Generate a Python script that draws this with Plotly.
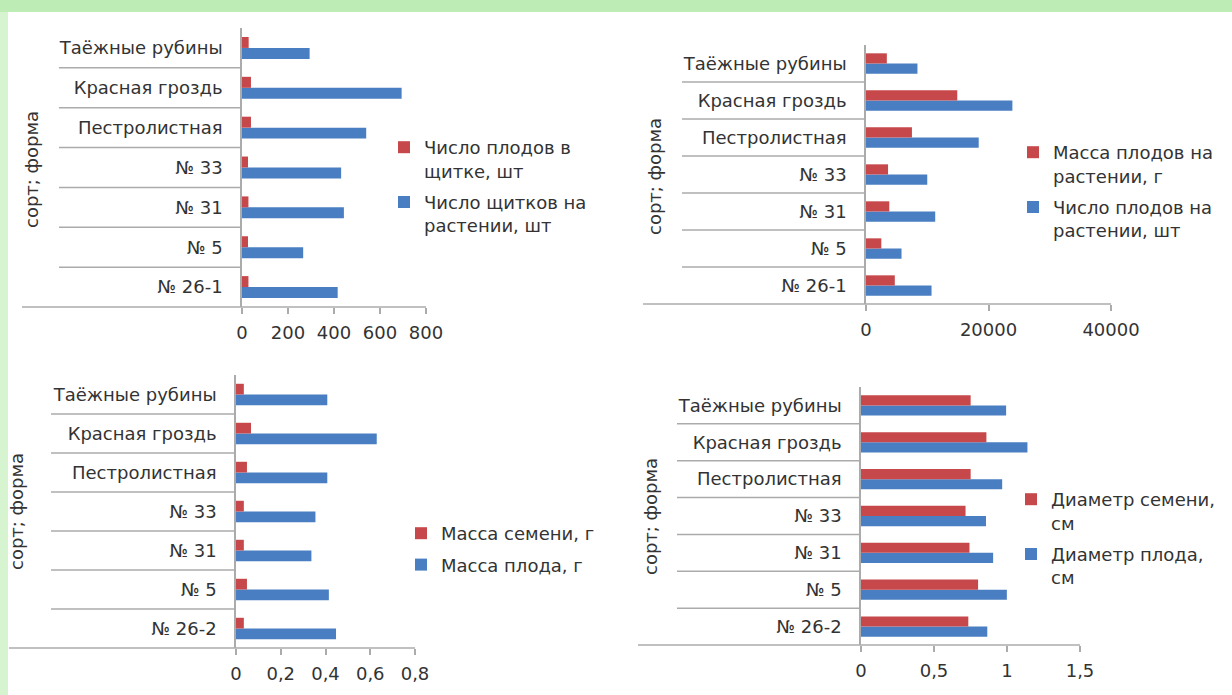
import plotly.graph_objects as go

W, H = 1232, 695

# ---------------- data (bottom-to-top category order) ----------------
categories_a = ["№ 26-1", "№ 5", "№ 31", "№ 33", "Пестролистная", "Красная гроздь", "Таёжные рубины"]
categories_b = ["№ 26-2", "№ 5", "№ 31", "№ 33", "Пестролистная", "Красная гроздь", "Таёжные рубины"]

c1_red_name = "Число плодов в<br>щитке, шт"
c1_blue_name = "Число щитков на<br>растении, шт"
c1_red = [28, 26, 28, 26, 39, 39, 29]
c1_blue = [416, 266, 443, 431, 540, 694, 294]
c1_ticks = [0, 200, 400, 600, 800]
c1_ticktext = ["0", "200", "400", "600", "800"]

c2_red_name = "Масса плодов на<br>растении, г"
c2_blue_name = "Число плодов на<br>растении, шт"
c2_red = [4700, 2500, 3800, 3600, 7500, 14900, 3400]
c2_blue = [10700, 5800, 11300, 10000, 18400, 23900, 8400]
c2_ticks = [0, 20000, 40000]
c2_ticktext = ["0", "20000", "40000"]

c3_red_name = "Масса семени, г"
c3_blue_name = "Масса плода, г"
c3_red = [0.035, 0.049, 0.035, 0.035, 0.049, 0.067, 0.035]
c3_blue = [0.447, 0.415, 0.337, 0.355, 0.408, 0.629, 0.408]
c3_ticks = [0, 0.2, 0.4, 0.6, 0.8]
c3_ticktext = ["0", "0,2", "0,4", "0,6", "0,8"]

c4_red_name = "Диаметр семени,<br>см"
c4_blue_name = "Диаметр плода,<br>см"
c4_red = [0.735, 0.802, 0.743, 0.716, 0.751, 0.859, 0.751]
c4_blue = [0.865, 0.999, 0.905, 0.856, 0.967, 1.14, 0.994]
c4_ticks = [0, 0.5, 1, 1.5]
c4_ticktext = ["0", "0,5", "1", "1,5"]

axis_title = "сорт; форма"

RED = "#C6484B"
BLUE = "#4A7EC2"
TEXT = "#333333"
LINE = "#ABABAB"
FONT = "DejaVu Sans"
FS = 18


def px(x):
    return x / W


def py(y):
    return 1 - y / H


charts = [
    dict(cats=categories_a, red=c1_red, blue=c1_blue, rn=c1_red_name, bn=c1_blue_name,
         ticks=c1_ticks, tt=c1_ticktext,
         x0=242, x1=426, top=28, bot=307, sep_left=59, axis_left=22,
         title_x=31, title_y=170, leg_x=384, leg_y=129),
    dict(cats=categories_a, red=c2_red, blue=c2_blue, rn=c2_red_name, bn=c2_blue_name,
         ticks=c2_ticks, tt=c2_ticktext,
         x0=866, x1=1111, top=45, bot=304, sep_left=682, axis_left=643,
         title_x=654, title_y=177, leg_x=1013, leg_y=134),
    dict(cats=categories_b, red=c3_red, blue=c3_blue, rn=c3_red_name, bn=c3_blue_name,
         ticks=c3_ticks, tt=c3_ticktext,
         x0=236, x1=415, top=375, bot=648, sep_left=51, axis_left=9,
         title_x=16, title_y=512, leg_x=401, leg_y=515),
    dict(cats=categories_b, red=c4_red, blue=c4_blue, rn=c4_red_name, bn=c4_blue_name,
         ticks=c4_ticks, tt=c4_ticktext,
         x0=861, x1=1080, top=387, bot=645, sep_left=677, axis_left=638,
         title_x=650, title_y=517, leg_x=1011, leg_y=481),
]

fig = go.Figure()
shapes = []
annotations = []
layout = {}

# page border (green frame of the screenshot)
shapes.append(dict(type="rect", xref="paper", yref="paper", x0=0, x1=1, y0=py(12), y1=1,
                   fillcolor="#BDEDB5", line=dict(width=0), layer="below"))
shapes.append(dict(type="rect", xref="paper", yref="paper", x0=0, x1=px(8), y0=0, y1=py(12),
                   fillcolor="#D6F4CF", line=dict(width=0), layer="below"))

for i, c in enumerate(charts, start=1):
    sfx = "" if i == 1 else str(i)
    xa, ya = "x" + sfx, "y" + sfx
    leg = "legend" + sfx
    fig.add_trace(go.Bar(y=c["cats"], x=c["blue"], orientation="h", name=c["bn"],
                         marker=dict(color=BLUE, line=dict(width=0)),
                         xaxis=xa, yaxis=ya, legend=leg, legendgroup=f"b{i}",
                         legendrank=2))
    fig.add_trace(go.Bar(y=c["cats"], x=c["red"], orientation="h", name=c["rn"],
                         marker=dict(color=RED, line=dict(width=0)),
                         xaxis=xa, yaxis=ya, legend=leg, legendgroup=f"r{i}",
                         legendrank=1))
    layout["xaxis" + sfx] = dict(
        domain=[px(c["x0"]), px(c["x1"])], anchor=ya, range=[0, c["ticks"][-1]],
        tickvals=c["ticks"], ticktext=c["tt"], showgrid=False, zeroline=False,
        showline=False, ticks="outside", ticklen=6, tickcolor=LINE, tickwidth=1.5,
        ticklabelstandoff=3, tickfont=dict(family=FONT, size=FS, color=TEXT), fixedrange=True)
    layout["yaxis" + sfx] = dict(
        domain=[py(c["bot"]), py(c["top"])], anchor=xa, type="category",
        categoryorder="array", categoryarray=c["cats"], showgrid=False, zeroline=False,
        showline=True, linecolor=LINE, linewidth=1.5, ticks="", ticklabelstandoff=14,
        tickfont=dict(family=FONT, size=FS, color=TEXT), fixedrange=True)
    layout[leg] = dict(x=px(c["leg_x"]), y=py(c["leg_y"]), xanchor="left", yanchor="top",
                       traceorder="grouped", valign="top", bgcolor="rgba(0,0,0,0)",
                       font=dict(family=FONT, size=FS, color=TEXT), tracegroupgap=5,
                       itemwidth=30)
    # bottom axis line extended under the category labels (Excel style)
    shapes.append(dict(type="line", xref="paper", yref=ya + " domain",
                       x0=px(c["axis_left"]), x1=px(c["x1"]), y0=0, y1=0,
                       line=dict(color=LINE, width=1.5)))
    # category separators
    n = len(c["cats"])
    for k in range(1, n):
        shapes.append(dict(type="line", xref="paper", yref=ya,
                           x0=px(c["sep_left"]), x1=px(c["x0"]), y0=k - 0.5, y1=k - 0.5,
                           line=dict(color=LINE, width=1.5)))
    annotations.append(dict(text=axis_title, xref="paper", yref="paper",
                            x=px(c["title_x"]), y=py(c["title_y"]), xanchor="center",
                            yanchor="middle", textangle=-90, showarrow=False,
                            font=dict(family=FONT, size=FS, color=TEXT)))

fig.update_layout(
    width=W, height=H, margin=dict(l=0, r=0, t=0, b=0, autoexpand=False),
    paper_bgcolor="white", plot_bgcolor="rgba(0,0,0,0)",
    barmode="group", bargap=0.45, bargroupgap=0,
    shapes=shapes, annotations=annotations,
    font=dict(family=FONT, size=FS, color=TEXT),
    **layout,
)

fig.write_html("out.html", config={"displayModeBar": False},
               post_script="document.body.style.margin='0';document.body.style.overflow='hidden';")
